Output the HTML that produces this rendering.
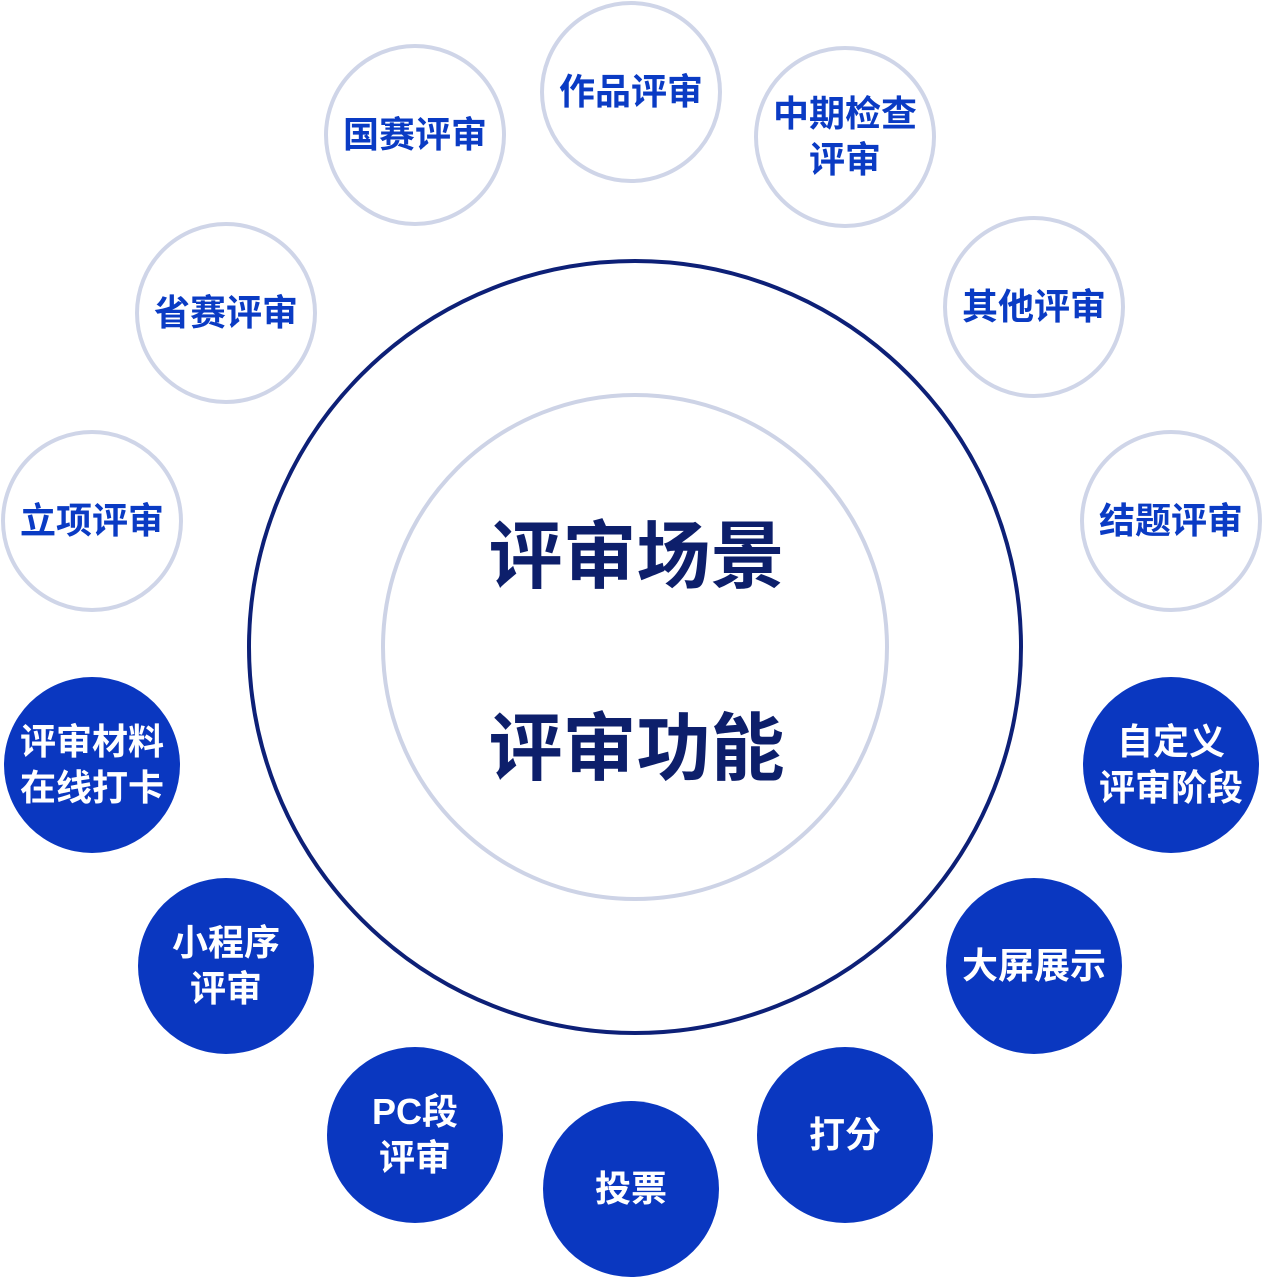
<!DOCTYPE html>
<html><head><meta charset="utf-8"><style>
html,body{margin:0;padding:0;background:#fff;}
body{width:1263px;height:1278px;position:relative;overflow:hidden;font-family:"Liberation Sans","Noto Sans CJK SC",sans-serif;}
.c{position:absolute;width:176px;height:176px;border-radius:50%;box-sizing:border-box;display:flex;align-items:center;justify-content:center;text-align:center;font-weight:bold;font-size:36px;line-height:46px;}
.o{border:4px solid #cfd5e8;color:#0a3bc4;background:#fff;width:182px;height:182px;margin:-3px 0 0 -3px;}
.f{background:#0a37c0;color:#fff;}
.big{position:absolute;border-radius:50%;box-sizing:border-box;}
.t{position:absolute;left:5px;width:1263px;text-align:center;font-weight:bold;font-size:74px;color:#0d1f6b;line-height:80px;}
</style></head><body>
<div class="big" style="left:247px;top:259px;width:776px;height:776px;border:4px solid #0d2077;"></div>
<div class="big" style="left:381px;top:393px;width:508px;height:508px;border:4px solid #cdd3e6;"></div>
<div class="t" style="top:517px;">评审场景</div>
<div class="t" style="top:709px;">评审功能</div>

<div class="c o" style="left:327px;top:47px;">国赛评审</div>
<div class="c o" style="left:543px;top:4px;">作品评审</div>
<div class="c o" style="left:757px;top:49px;">中期检查<br>评审</div>
<div class="c o" style="left:138px;top:225px;">省赛评审</div>
<div class="c o" style="left:946px;top:219px;">其他评审</div>
<div class="c o" style="left:4px;top:433px;">立项评审</div>
<div class="c o" style="left:1083px;top:433px;">结题评审</div>

<div class="c f" style="left:4px;top:677px;">评审材料<br>在线打卡</div>
<div class="c f" style="left:1083px;top:677px;">自定义<br>评审阶段</div>
<div class="c f" style="left:138px;top:878px;">小程序<br>评审</div>
<div class="c f" style="left:946px;top:878px;">大屏展示</div>
<div class="c f" style="left:327px;top:1047px;">PC段<br>评审</div>
<div class="c f" style="left:757px;top:1047px;">打分</div>
<div class="c f" style="left:543px;top:1101px;">投票</div>
</body></html>
